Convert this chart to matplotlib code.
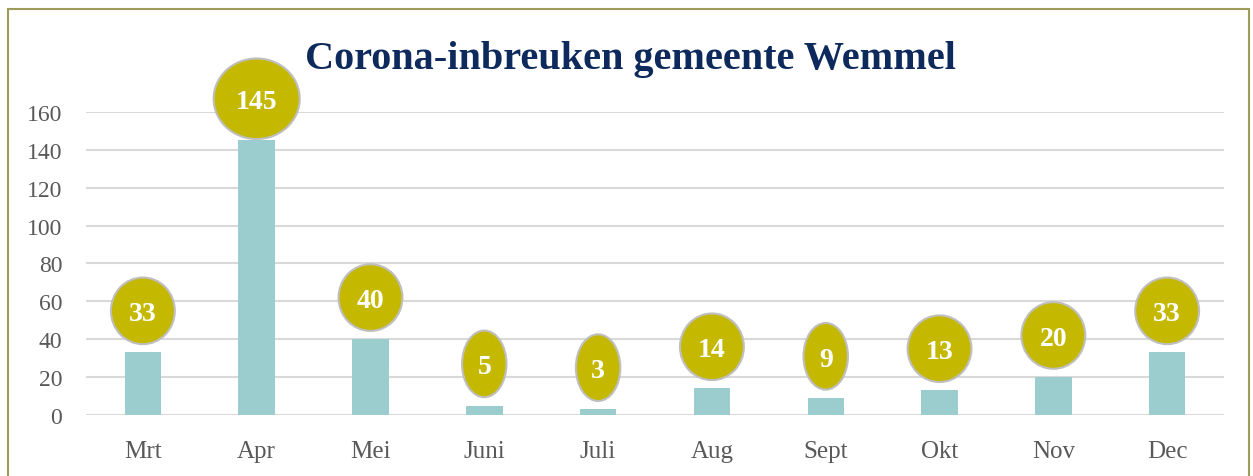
"""Corona-inbreuken gemeente Wemmel, per maand."""

import matplotlib
matplotlib.use("Agg")
import matplotlib.pyplot as plt
from matplotlib.patches import Rectangle, Ellipse
from matplotlib.offsetbox import AnnotationBbox, DrawingArea

months = ["Mrt", "Apr", "Mei", "Juni", "Juli", "Aug", "Sept", "Okt", "Nov", "Dec"]
counts = [33, 145, 40, 5, 3, 14, 9, 13, 20, 33]
y_ticks = [0, 20, 40, 60, 80, 100, 120, 140, 160]

SERIF = ["Liberation Serif", "DejaVu Serif"]
BAR = "#9ccdce"
BUBBLE = "#c4b800"
GREY_TXT = "#595959"

fig = plt.figure(figsize=(12.53, 4.77), dpi=100)
ax = fig.add_axes([0.0686, 0.1279, 0.9083, 0.6352])

x = list(range(len(months)))
ax.bar(x, counts, width=0.32, color=BAR, zorder=2)
ax.set_xlim(-0.5, len(months) - 0.5)
ax.set_ylim(0, 160)
ax.set_yticks(y_ticks)
ax.set_xticks(x)
ax.set_xticklabels(months)
for lab in ax.get_yticklabels():
    lab.set_fontfamily(SERIF)
    lab.set_fontsize(17)
    lab.set_color(GREY_TXT)
for lab in ax.get_xticklabels():
    lab.set_fontfamily(SERIF)
    lab.set_fontsize(18)
    lab.set_color(GREY_TXT)
ax.tick_params(axis="both", length=0)
ax.tick_params(axis="y", pad=17)
ax.tick_params(axis="x", pad=18)
ax.grid(axis="y", color="#d9d9d9", linewidth=1.5, zorder=0)
for s in ax.spines.values():
    s.set_visible(False)

# value bubbles above the bars (size in points, grows with digit count)
for xi, v in zip(x, counts):
    n = len(str(v))
    w = {1: 32, 2: 46, 3: 62}[n]
    h = 58 if n == 3 else 48
    da = DrawingArea(w, h, 0, 0)
    da.add_artist(Ellipse((w / 2, h / 2), w, h, fc=BUBBLE, ec="#bfbfbf", lw=1.5))
    ab = AnnotationBbox(da, (xi, v), xybox=(0, 30), boxcoords="offset points",
                        frameon=False, pad=0, box_alignment=(0.5, 0.5),
                        annotation_clip=False, zorder=5)
    ax.add_artist(ab)
    ax.annotate(str(v), xy=(xi, v), xytext=(0, 30), textcoords="offset points",
                ha="center", va="center_baseline", fontsize=20,
                fontweight="bold", color="white", family=SERIF,
                annotation_clip=False, zorder=6)

fig.text(0.503, 0.875, "Corona-inbreuken gemeente Wemmel", ha="center",
         va="center", fontsize=29, fontweight="bold", color="#0e2a5c",
         family=SERIF)

# outer frame (bottom edge is cut off in the original)
fig.patches.append(Rectangle((8 / 1253, -0.1), 1241 / 1253, 1.1 - 10 / 477,
                             transform=fig.transFigure, fill=False,
                             ec="#9e9b5b", lw=1.5))

fig.savefig("out.png", dpi=100)
